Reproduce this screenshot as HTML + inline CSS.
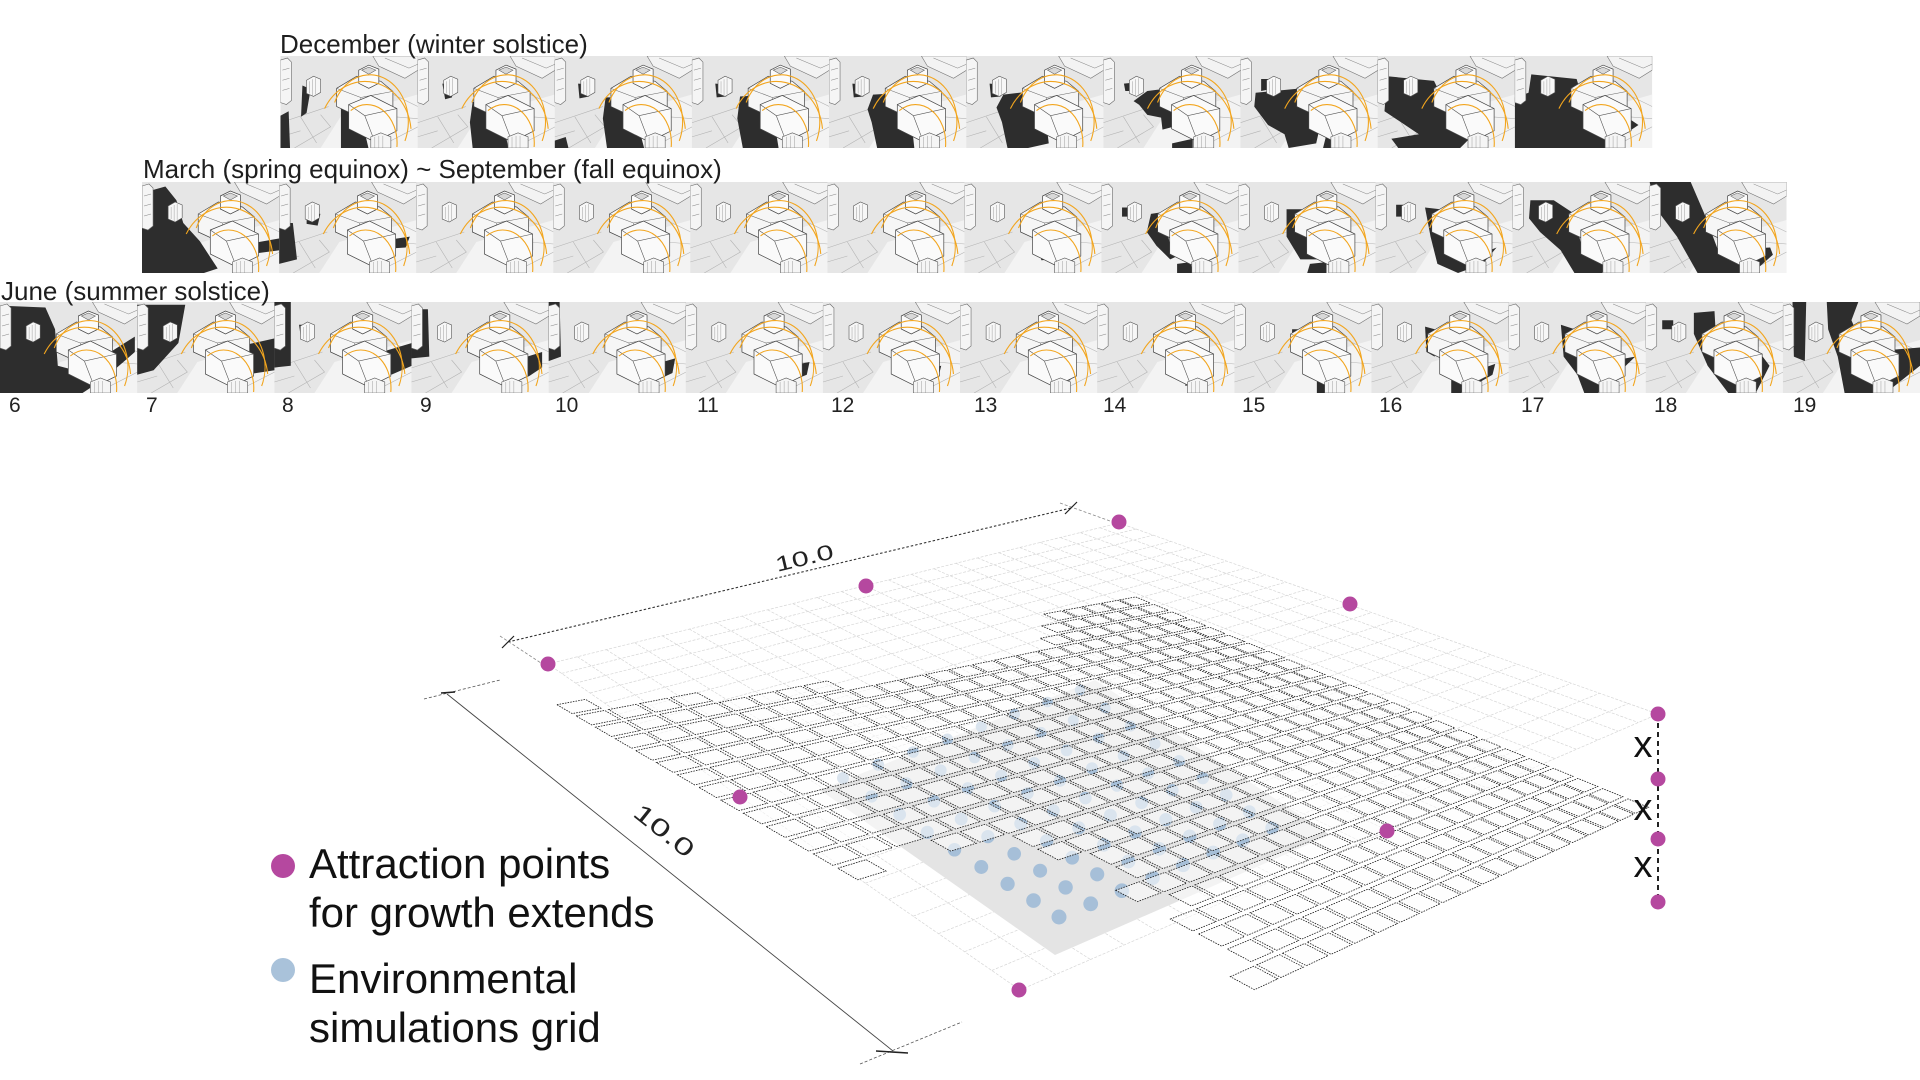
<!DOCTYPE html>
<html>
<head>
<meta charset="utf-8">
<style>
html,body{margin:0;padding:0;background:#fff;}
body{width:1920px;height:1080px;overflow:hidden;}
svg{display:block;}
text{font-family:"Liberation Sans",Arial,sans-serif;}
</style>
</head>
<body>
<svg id="dia" width="1920" height="1080" viewBox="0 0 1920 1080" xmlns="http://www.w3.org/2000/svg">
<defs>
  <g id="tb">
    <rect width="137" height="91" fill="#e6e6e6"/>
    <polygon points="60,60 137,38 137,91 40,91" fill="#f3f3f3"/>
    <path d="M0,66 L48,50 M14,91 L50,70 L40,58 M96,91 L137,70 M108,36 L137,50 M0,80 L20,74 M20,60 L36,86 M112,60 L137,62" stroke="#b4b4b4" stroke-width="0.6" fill="none"/>
  </g>
  <g id="tf">
    <polygon points="0,4 7,2 11,6 11,44 6,48 0,46" fill="#f5f5f5" stroke="#6a6a6a" stroke-width="0.6"/>
    <path d="M2,14 L9,12 M2,24 L9,22 M2,34 L9,32" stroke="#888" stroke-width="0.5"/>
    <polygon points="26,24 33,20 40,23 40,36 33,40 26,37" fill="#f7f7f7" stroke="#555" stroke-width="0.6"/>
    <path d="M29,25 L29,37 M32,23 L32,39 M35,22 L35,38" stroke="#888" stroke-width="0.4"/>
    <polygon points="92,0 137,0 137,14 124,22 98,10" fill="#f3f3f3" stroke="#777" stroke-width="0.6"/>
    <path d="M104,2 L128,12 L137,8" stroke="#888" stroke-width="0.5" fill="none"/>
    <polygon points="56,32 76,20 100,25 112,35 112,54 86,64 56,50" fill="#f6f6f6" stroke="#444" stroke-width="0.7"/>
    <path d="M56,32 L80,41 L112,35 M80,41 L82,62" stroke="#666" stroke-width="0.5" fill="none"/>
    <polygon points="78,14 88,9 98,13 98,27 88,32 78,27" fill="#fbfbfb" stroke="#444" stroke-width="0.7"/>
    <polygon points="81,14 88,11 95,14 88,18" fill="#d8d8d8" stroke="#555" stroke-width="0.5"/>
    <polygon points="68,48 90,39 116,52 116,74 94,85 68,72" fill="#fafafa" stroke="#444" stroke-width="0.7"/>
    <path d="M68,48 L84,59 L116,52 M84,59 L94,85" stroke="#555" stroke-width="0.6" fill="none"/>
    <polygon points="90,80 100,76 110,80 110,91 90,91" fill="#f5f5f5" stroke="#555" stroke-width="0.6"/>
    <path d="M94,80 L94,91 M98,79 L98,91 M102,79 L102,91" stroke="#888" stroke-width="0.4"/>
    <g fill="none" stroke="#f2a51e" stroke-width="1.1">
      <path d="M44,52 A46,52 0 0 1 130,72"/>
      <path d="M54,46 A38,46 0 0 1 124,84"/>
      <path d="M70,54 A30,38 0 0 1 116,90"/>
    </g>
  </g>
</defs>

<!-- ===== December row ===== -->
<svg x="280.4" y="56" width="137.6" height="92" viewBox="0 0 137 91" preserveAspectRatio="none"><use href="#tb"/><g transform="scale(137 91)" fill="#2d2d2d"><polygon points="0,0.65 0.06,0.6 0.07,1 0,1"/><polygon points="0.16,0.32 0.22,0.36 0.19,0.62 0.15,0.66"/><polygon points="0.44,0.55 0.58,0.62 0.64,1 0.44,1"/></g><use href="#tf"/></svg>
<svg x="417.6" y="56" width="137.6" height="92" viewBox="0 0 137 91" preserveAspectRatio="none"><use href="#tb"/><g transform="scale(137 91)" fill="#2d2d2d"><polygon points="0.18,0.3 0.26,0.31 0.25,0.45 0.2,0.47"/><polygon points="0.4,0.5 0.55,0.5 0.62,0.72 0.66,1 0.4,1 0.38,0.72"/></g><use href="#tf"/></svg>
<svg x="554.7" y="56" width="137.6" height="92" viewBox="0 0 137 91" preserveAspectRatio="none"><use href="#tb"/><g transform="scale(137 91)" fill="#2d2d2d"><polygon points="0.17,0.3 0.26,0.31 0.25,0.44 0.18,0.46"/><polygon points="0.37,0.45 0.55,0.45 0.6,0.72 0.65,1 0.38,1 0.35,0.68"/><polygon points="0,0.92 0.08,0.88 0.1,1 0,1"/></g><use href="#tf"/></svg>
<svg x="691.9" y="56" width="137.6" height="92" viewBox="0 0 137 91" preserveAspectRatio="none"><use href="#tb"/><g transform="scale(137 91)" fill="#2d2d2d"><polygon points="0.17,0.3 0.26,0.31 0.25,0.44 0.18,0.45"/><polygon points="0.35,0.44 0.55,0.42 0.6,0.72 0.63,1 0.37,1 0.33,0.68"/></g><use href="#tf"/></svg>
<svg x="829.0" y="56" width="137.6" height="92" viewBox="0 0 137 91" preserveAspectRatio="none"><use href="#tb"/><g transform="scale(137 91)" fill="#2d2d2d"><polygon points="0.17,0.3 0.26,0.31 0.25,0.44 0.18,0.45"/><polygon points="0.32,0.42 0.55,0.4 0.6,0.72 0.62,1 0.35,1 0.31,0.72 0.28,0.58"/></g><use href="#tf"/></svg>
<svg x="966.2" y="56" width="137.6" height="92" viewBox="0 0 137 91" preserveAspectRatio="none"><use href="#tb"/><g transform="scale(137 91)" fill="#2d2d2d"><polygon points="0.17,0.3 0.26,0.31 0.25,0.44 0.18,0.45"/><polygon points="0.27,0.42 0.5,0.38 0.58,0.7 0.6,0.95 0.45,1 0.3,1 0.26,0.72 0.22,0.56"/></g><use href="#tf"/></svg>
<svg x="1103.3" y="56" width="137.6" height="92" viewBox="0 0 137 91" preserveAspectRatio="none"><use href="#tb"/><g transform="scale(137 91)" fill="#2d2d2d"><polygon points="0.22,0.49 0.32,0.38 0.48,0.35 0.51,0.49 0.61,0.73 0.43,0.8 0.42,0.67 0.32,0.64 0.26,0.53"/><polygon points="0.15,0.3 0.28,0.28 0.28,0.38 0.16,0.38"/><polygon points="0.5,0.95 0.65,0.9 0.65,1 0.5,1"/></g><use href="#tf"/></svg>
<svg x="1240.5" y="56" width="137.6" height="92" viewBox="0 0 137 91" preserveAspectRatio="none"><use href="#tb"/><g transform="scale(137 91)" fill="#2d2d2d"><polygon points="0.11,0.4 0.45,0.35 0.5,0.5 0.58,0.75 0.55,0.95 0.35,1 0.32,0.85 0.2,0.75 0.1,0.55"/><polygon points="0.15,0.25 0.25,0.25 0.25,0.35 0.15,0.38"/><polygon points="0.62,0.88 0.75,0.85 0.78,1 0.6,1"/></g><use href="#tf"/></svg>
<svg x="1377.6" y="56" width="137.6" height="92" viewBox="0 0 137 91" preserveAspectRatio="none"><use href="#tb"/><g transform="scale(137 91)" fill="#2d2d2d"><polygon points="0.07,0.22 0.41,0.27 0.5,0.55 0.56,0.78 0.8,0.72 0.7,0.85 0.6,1 0.15,1 0.1,0.9 0.3,0.85 0.15,0.7 0.05,0.6"/></g><use href="#tf"/></svg>
<svg x="1514.8" y="56" width="137.4" height="92" viewBox="0 0 137 91" preserveAspectRatio="none"><use href="#tb"/><g transform="scale(137 91)" fill="#2d2d2d"><polygon points="0.12,0.2 0.45,0.25 0.5,0.5 0.6,0.8 0.85,0.7 0.9,0.75 0.7,0.95 0.72,1 0,1 0,0.45 0.1,0.4"/></g><use href="#tf"/></svg>

<!-- ===== March row ===== -->
<svg x="142" y="182" width="137.6" height="91" viewBox="0 0 137 91" preserveAspectRatio="none"><use href="#tb"/><g transform="scale(137 91)" fill="#2d2d2d"><polygon points="0,0.2 0.05,0.1 0.17,0.05 0.25,0.2 0.3,0.45 0.42,0.65 0.55,0.95 0.45,1 0,1"/><polygon points="0.7,0.7 1,0.62 1,0.75 0.75,0.8"/></g><use href="#tf"/></svg>
<svg x="279.1" y="182" width="137.6" height="91" viewBox="0 0 137 91" preserveAspectRatio="none"><use href="#tb"/><g transform="scale(137 91)" fill="#2d2d2d"><polygon points="0,0.45 0.1,0.45 0.13,0.85 0,0.9"/><polygon points="0.2,0.33 0.3,0.35 0.28,0.48 0.2,0.46"/><polygon points="0.68,0.66 0.95,0.6 0.92,0.72 0.72,0.74"/></g><use href="#tf"/></svg>
<svg x="416.1" y="182" width="137.6" height="91" viewBox="0 0 137 91" preserveAspectRatio="none"><use href="#tb"/><g transform="scale(137 91)" fill="#2d2d2d"><polygon points="0.2,0.33 0.27,0.33 0.27,0.4 0.2,0.4"/><polygon points="0.6,0.68 0.85,0.62 0.85,0.75 0.62,0.76"/></g><use href="#tf"/></svg>
<svg x="553.2" y="182" width="137.6" height="91" viewBox="0 0 137 91" preserveAspectRatio="none"><use href="#tb"/><g transform="scale(137 91)" fill="#2d2d2d"><polygon points="0.2,0.33 0.27,0.33 0.27,0.4 0.2,0.4"/><polygon points="0.6,0.7 0.82,0.64 0.82,0.76 0.62,0.78"/></g><use href="#tf"/></svg>
<svg x="690.2" y="182" width="137.6" height="91" viewBox="0 0 137 91" preserveAspectRatio="none"><use href="#tb"/><g transform="scale(137 91)" fill="#2d2d2d"><polygon points="0.62,0.72 0.8,0.68 0.8,0.78 0.64,0.8"/></g><use href="#tf"/></svg>
<svg x="827.3" y="182" width="137.6" height="91" viewBox="0 0 137 91" preserveAspectRatio="none"><use href="#tb"/><g transform="scale(137 91)" fill="#2d2d2d"><polygon points="0.62,0.74 0.78,0.72 0.76,0.8 0.64,0.82"/></g><use href="#tf"/></svg>
<svg x="964.3" y="182" width="137.6" height="91" viewBox="0 0 137 91" preserveAspectRatio="none"><use href="#tb"/><g transform="scale(137 91)" fill="#2d2d2d"><polygon points="0.55,0.76 0.75,0.74 0.72,0.84 0.56,0.86"/><polygon points="0.66,0.92 0.78,0.9 0.8,1 0.66,1"/></g><use href="#tf"/></svg>
<svg x="1101.4" y="182" width="137.6" height="91" viewBox="0 0 137 91" preserveAspectRatio="none"><use href="#tb"/><g transform="scale(137 91)" fill="#2d2d2d"><polygon points="0.36,0.35 0.45,0.33 0.5,0.7 0.6,0.78 0.5,0.85 0.4,0.7 0.33,0.55"/><polygon points="0.55,0.9 0.65,0.88 0.66,1 0.55,1"/><polygon points="0.15,0.28 0.2,0.28 0.2,0.38 0.15,0.38"/></g><use href="#tf"/></svg>
<svg x="1238.4" y="182" width="137.6" height="91" viewBox="0 0 137 91" preserveAspectRatio="none"><use href="#tb"/><g transform="scale(137 91)" fill="#2d2d2d"><polygon points="0.35,0.3 0.47,0.3 0.55,0.8 0.6,0.85 0.45,0.85 0.35,0.6"/><polygon points="0.52,0.9 0.64,0.88 0.64,1 0.5,1"/></g><use href="#tf"/></svg>
<svg x="1375.5" y="182" width="137.6" height="91" viewBox="0 0 137 91" preserveAspectRatio="none"><use href="#tb"/><g transform="scale(137 91)" fill="#2d2d2d"><polygon points="0.36,0.28 0.47,0.3 0.52,0.7 0.75,0.8 0.88,0.72 0.78,0.9 0.6,1 0.45,0.9 0.4,0.6"/><polygon points="0.15,0.25 0.2,0.25 0.2,0.38 0.15,0.38"/></g><use href="#tf"/></svg>
<svg x="1512.5" y="182" width="137.6" height="91" viewBox="0 0 137 91" preserveAspectRatio="none"><use href="#tb"/><g transform="scale(137 91)" fill="#2d2d2d"><polygon points="0.13,0.2 0.3,0.2 0.45,0.35 0.5,0.7 0.8,0.8 0.65,1 0.45,1 0.35,0.75 0.2,0.55 0.12,0.4"/></g><use href="#tf"/></svg>
<svg x="1649.6" y="182" width="137" height="91" viewBox="0 0 137 91" preserveAspectRatio="none"><use href="#tb"/><g transform="scale(137 91)" fill="#2d2d2d"><polygon points="0,0 0.3,0 0.4,0.35 0.5,0.75 0.88,0.72 0.9,0.8 0.75,1 0.35,1 0.2,0.6 0.05,0.3"/></g><use href="#tf"/></svg>

<!-- ===== June row ===== -->
<svg x="0" y="302" width="137.6" height="91" viewBox="0 0 137 91" preserveAspectRatio="none"><use href="#tb"/><g transform="scale(137 91)" fill="#2d2d2d"><polygon points="0,0.04 0.33,0.06 0.4,0.3 0.42,0.7 0.62,0.78 0.75,0.6 0.98,0.38 0.98,0.55 0.75,0.85 0.6,1 0,1"/></g><use href="#tf"/></svg>
<svg x="137.1" y="302" width="137.6" height="91" viewBox="0 0 137 91" preserveAspectRatio="none"><use href="#tb"/><g transform="scale(137 91)" fill="#2d2d2d"><polygon points="0,0.03 0.35,0.03 0.3,0.45 0.12,0.75 0,0.8"/><polygon points="0.7,0.5 1,0.4 1,0.75 0.78,0.8"/></g><use href="#tf"/></svg>
<svg x="274.3" y="302" width="137.6" height="91" viewBox="0 0 137 91" preserveAspectRatio="none"><use href="#tb"/><g transform="scale(137 91)" fill="#2d2d2d"><polygon points="0,0 0.12,0 0.12,0.7 0,0.72"/><polygon points="0.18,0.25 0.25,0.25 0.26,0.35 0.19,0.36"/><polygon points="0.78,0.55 1,0.45 1,0.7 0.85,0.8"/></g><use href="#tf"/></svg>
<svg x="411.4" y="302" width="137.6" height="91" viewBox="0 0 137 91" preserveAspectRatio="none"><use href="#tb"/><g transform="scale(137 91)" fill="#2d2d2d"><polygon points="0,0.08 0.12,0.08 0.13,0.6 0,0.62"/><polygon points="0.8,0.62 0.95,0.55 0.95,0.72 0.85,0.82"/></g><use href="#tf"/></svg>
<svg x="548.6" y="302" width="137.6" height="91" viewBox="0 0 137 91" preserveAspectRatio="none"><use href="#tb"/><g transform="scale(137 91)" fill="#2d2d2d"><polygon points="0,0 0.08,0 0.09,0.6 0,0.65"/><polygon points="0.78,0.68 0.92,0.62 0.9,0.78 0.8,0.85"/></g><use href="#tf"/></svg>
<svg x="685.7" y="302" width="137.6" height="91" viewBox="0 0 137 91" preserveAspectRatio="none"><use href="#tb"/><g transform="scale(137 91)" fill="#2d2d2d"><polygon points="0,0.1 0.06,0.1 0.06,0.5 0,0.5"/><polygon points="0.76,0.7 0.9,0.66 0.88,0.8 0.78,0.86"/></g><use href="#tf"/></svg>
<svg x="822.9" y="302" width="137.6" height="91" viewBox="0 0 137 91" preserveAspectRatio="none"><use href="#tb"/><g transform="scale(137 91)" fill="#2d2d2d"><polygon points="0.74,0.74 0.86,0.7 0.84,0.82 0.74,0.88"/></g><use href="#tf"/></svg>
<svg x="960" y="302" width="137.6" height="91" viewBox="0 0 137 91" preserveAspectRatio="none"><use href="#tb"/><g transform="scale(137 91)" fill="#2d2d2d"><polygon points="0.7,0.76 0.84,0.74 0.8,0.86 0.7,0.9"/></g><use href="#tf"/></svg>
<svg x="1097.1" y="302" width="137.6" height="91" viewBox="0 0 137 91" preserveAspectRatio="none"><use href="#tb"/><g transform="scale(137 91)" fill="#2d2d2d"><polygon points="0.66,0.78 0.8,0.78 0.76,0.9 0.64,0.92"/></g><use href="#tf"/></svg>
<svg x="1234.3" y="302" width="137.6" height="91" viewBox="0 0 137 91" preserveAspectRatio="none"><use href="#tb"/><g transform="scale(137 91)" fill="#2d2d2d"><polygon points="0.42,0.3 0.47,0.3 0.47,0.5 0.42,0.5"/><polygon points="0.6,0.85 0.66,0.85 0.66,1 0.6,1"/></g><use href="#tf"/></svg>
<svg x="1371.4" y="302" width="137.6" height="91" viewBox="0 0 137 91" preserveAspectRatio="none"><use href="#tb"/><g transform="scale(137 91)" fill="#2d2d2d"><polygon points="0.39,0.27 0.46,0.3 0.46,0.6 0.4,0.55"/><polygon points="0.58,0.85 0.9,0.68 0.88,0.8 0.65,1 0.58,1"/></g><use href="#tf"/></svg>
<svg x="1508.6" y="302" width="137.6" height="91" viewBox="0 0 137 91" preserveAspectRatio="none"><use href="#tb"/><g transform="scale(137 91)" fill="#2d2d2d"><polygon points="0.38,0.25 0.48,0.3 0.52,0.7 0.85,0.62 0.92,0.6 0.75,0.85 0.65,1 0.55,1 0.5,0.8 0.4,0.6"/></g><use href="#tf"/></svg>
<svg x="1645.7" y="302" width="137.6" height="91" viewBox="0 0 137 91" preserveAspectRatio="none"><use href="#tb"/><g transform="scale(137 91)" fill="#2d2d2d"><polygon points="0.35,0.12 0.5,0.1 0.52,0.65 0.85,0.6 0.9,0.7 0.8,1 0.6,1 0.45,0.7 0.35,0.35"/><polygon points="0.12,0.2 0.2,0.2 0.2,0.3 0.12,0.3"/></g><use href="#tf"/></svg>
<svg x="1782.9" y="302" width="137.1" height="91" viewBox="0 0 137 91" preserveAspectRatio="none"><use href="#tb"/><g transform="scale(137 91)" fill="#2d2d2d"><polygon points="0.07,0 0.17,0 0.16,0.65 0.08,0.6"/><polygon points="0.32,0 0.55,0 0.5,0.2 0.6,0.55 1,0.5 1,0.7 0.75,1 0.45,1 0.4,0.6 0.33,0.3"/></g><use href="#tf"/></svg>

<!-- ===== Row labels ===== -->
<g font-size="26" fill="#1e1e1e">
  <text x="280" y="53">December (winter solstice)</text>
  <text x="143" y="178">March (spring equinox) ~ September (fall equinox)</text>
  <text x="1" y="300">June (summer solstice)</text>
</g>
<g font-size="21" fill="#222">
  <text x="9" y="412">6</text>
  <text x="146" y="412">7</text>
  <text x="282" y="412">8</text>
  <text x="420" y="412">9</text>
  <text x="555" y="412">10</text>
  <text x="697" y="412">11</text>
  <text x="831" y="412">12</text>
  <text x="974" y="412">13</text>
  <text x="1103" y="412">14</text>
  <text x="1242" y="412">15</text>
  <text x="1379" y="412">16</text>
  <text x="1521" y="412">17</text>
  <text x="1654" y="412">18</text>
  <text x="1793" y="412">19</text>
</g>

<!-- ===== Bottom diagram ===== -->
<path id="ggrid" d="" fill="none" stroke="#d6d6d6" stroke-width="0.7" stroke-dasharray="3 1.5"/>
<polygon points="820,790 1055,955 1330,835 1095,680" fill="#e4e4e4"/>
<g id="bdots" fill="#a6bfd8"></g>
<path id="panels" d="" fill="#fdfdfd" fill-opacity="0.6" stroke="#1a1a1a" stroke-width="0.8" stroke-dasharray="1.6 1.1"/>

<!-- dimension lines -->
<g fill="none">
  <path d="M508,642 L1071,508" stroke="#333" stroke-width="1.1" stroke-dasharray="2.5 2"/>
  <path d="M500,636 L541,663 M1060,503 L1110,521" stroke="#888" stroke-width="0.8" stroke-dasharray="3 2"/>
  <path d="M502,648 L514,636 M1065,514 L1077,502" stroke="#222" stroke-width="1.2"/>
  <path d="M447,694 L893,1051" stroke="#444" stroke-width="0.9"/>
  <path d="M424,699 L500,680 M860,1064 L962,1022" stroke="#555" stroke-width="0.8" stroke-dasharray="3 2"/>
  <path d="M441,693 L455,692 M876,1051 L908,1053" stroke="#222" stroke-width="1.5"/>
</g>
<text transform="translate(806,565) rotate(-13.4) scale(1.45 1)" text-anchor="middle" font-size="21" fill="#222">10.0</text>
<text transform="translate(659,837) rotate(38.6) scale(1.5 1)" text-anchor="middle" font-size="24" fill="#222">10.0</text>

<!-- vertical x column -->
<path d="M1658,714 L1658,902" stroke="#222" stroke-width="2" stroke-dasharray="5 4"/>
<g font-size="38" fill="#111" text-anchor="middle">
  <text x="1643" y="757">x</text>
  <text x="1643" y="820">x</text>
  <text x="1643" y="877">x</text>
</g>

<!-- attraction points -->
<g fill="#b5489f">
  <circle cx="548" cy="664" r="7.5"/>
  <circle cx="866" cy="586" r="7.5"/>
  <circle cx="1119" cy="522" r="7.5"/>
  <circle cx="1350" cy="604" r="7.5"/>
  <circle cx="1658" cy="714" r="7.5"/>
  <circle cx="740" cy="797" r="7.5"/>
  <circle cx="1387" cy="831" r="7.5"/>
  <circle cx="1019" cy="990" r="7.5"/>
  <circle cx="1658" cy="779" r="7.5"/>
  <circle cx="1658" cy="839" r="7.5"/>
  <circle cx="1658" cy="902" r="7.5"/>
</g>

<!-- legend -->
<circle cx="283" cy="866" r="12" fill="#b5489f"/>
<circle cx="283" cy="970" r="12" fill="#a9c2da"/>
<g font-size="42" fill="#111">
  <text x="309" y="878">Attraction points</text>
  <text x="309" y="927">for growth extends</text>
  <text x="309" y="993">Environmental</text>
  <text x="309" y="1042">simulations grid</text>
</g>
</svg>

<script>
(function(){
  var NS='http://www.w3.org/2000/svg';
  function homo(p0,p1,p2,p3){
    var x0=p0[0],y0=p0[1],x1=p1[0],y1=p1[1],x2=p2[0],y2=p2[1],x3=p3[0],y3=p3[1];
    var dx1=x1-x2,dx2=x3-x2,dx3=x0-x1+x2-x3;
    var dy1=y1-y2,dy2=y3-y2,dy3=y0-y1+y2-y3;
    var den=dx1*dy2-dx2*dy1;
    var g=(dx3*dy2-dx2*dy3)/den,h=(dx1*dy3-dx3*dy1)/den;
    var a=x1-x0+g*x1,b=x3-x0+h*x3,c=x0,d=y1-y0+g*y1,e=y3-y0+h*y3,f=y0;
    return function(u,v){var w=g*u+h*v+1;return [(a*u+b*v+c)/w,(d*u+e*v+f)/w];};
  }
  function f(p){return p[0].toFixed(1)+','+p[1].toFixed(1);}
  var G=homo([548,664],[1119,523],[1658,714],[1020,990]);
  var N=24,d='';
  for(var i=0;i<=N;i++){
    var t=i/N;
    d+='M'+f(G(t,0))+'L'+f(G(t,1));
    d+='M'+f(G(0,t))+'L'+f(G(1,t));
  }
  document.getElementById('ggrid').setAttribute('d',d);
  var D=homo([843,778],[1059,917],[1272,828],[1080,690]);
  var bd=document.getElementById('bdots');
  for(var i=0;i<=8;i++)for(var j=0;j<=7;j++){
    var p=D(i/8,j/7);
    var c=document.createElementNS(NS,'circle');
    c.setAttribute('cx',p[0].toFixed(1));c.setAttribute('cy',p[1].toFixed(1));
    c.setAttribute('r',(6+i/8*1.5-j/7*0.8).toFixed(2));
    bd.appendChild(c);
  }
  var P=homo([553,704],[1135,596],[1652,808],[1140,1046]);
  var poly=[[550,706],[700,698],[930,677],[1037,652],[1048,612],[1132,592],[1660,808],[1560,858],[1280,995],[1195,940],[1180,905],[1135,900],[1100,860],[990,842],[905,850],[862,884]];
  function inside(x,y){
    var c=false;
    for(var i=0,j=poly.length-1;i<poly.length;j=i++){
      var xi=poly[i][0],yi=poly[i][1],xj=poly[j][0],yj=poly[j][1];
      if(((yi>y)!=(yj>y))&&(x<(xj-xi)*(y-yi)/(yj-yi)+xi))c=!c;
    }
    return c;
  }
  var pd='',NU=24,NV=24;
  for(var i=0;i<NU;i++)for(var j=0;j<NV;j++){
    var cc=P((i+.5)/NU,(j+.5)/NV);
    if(!inside(cc[0],cc[1]))continue;
    var u0=(i+.06)/NU,u1=(i+.94)/NU,v0=(j+.1)/NV,v1=(j+.9)/NV;
    pd+='M'+f(P(u0,v0))+'L'+f(P(u1,v0))+'L'+f(P(u1,v1))+'L'+f(P(u0,v1))+'Z';
  }
  document.getElementById('panels').setAttribute('d',pd);
})();
</script>
</body>
</html>
